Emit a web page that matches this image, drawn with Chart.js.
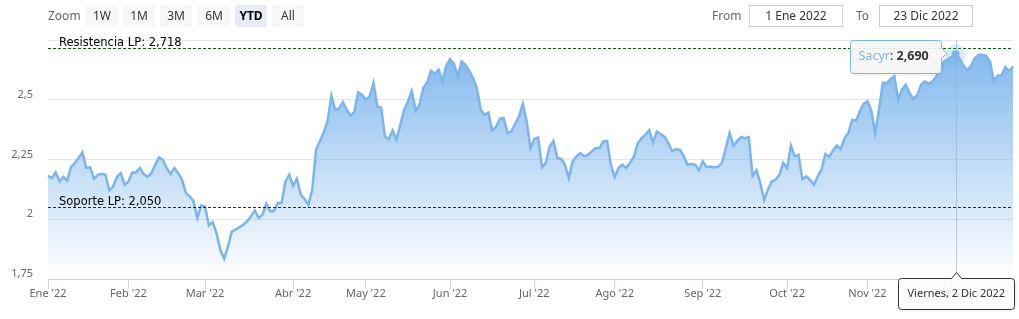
<!DOCTYPE html>
<html>
<head>
<meta charset="utf-8">
<script src="https://cdn.jsdelivr.net/npm/chart.js@4.4.0/dist/chart.umd.min.js"></script>
<style>
  html, body { margin: 0; padding: 0; background: #fff; }
  #wrap { position: relative; width: 1019px; height: 319px; font-family: "Noto Sans", sans-serif; }
  #chart { position: absolute; left: 0; top: 0; }
  .txt { position: absolute; top: 6px; font-size: 12px; line-height: 20px; color: #666; }
  .btn { position: absolute; top: 5px; width: 32px; height: 22px; line-height: 22px; background: #f7f7f7;
         border-radius: 2px; text-align: center; font-size: 12px; color: #333; }
  .btn.on { background: #e6ebf5; color: #000; font-weight: bold; }
  .inp { position: absolute; top: 5px; width: 92px; height: 20px; line-height: 20px; border: 1px solid #ccc;
         text-align: center; font-size: 12px; color: #333; }
</style>
</head>
<body>
<div id="wrap">
  <canvas id="chart" width="1019" height="319"></canvas>
</div>
<script>
// daily close, Sacyr 2022 (one array per month)
const ene = [2.182, 2.172, 2.196, 2.158, 2.177, 2.161, 2.218, 2.235, 2.256, 2.280, 2.214, 2.218, 2.170, 2.186, 2.190, 2.186, 2.120, 2.137, 2.177, 2.193, 2.144];
const feb = [2.158, 2.196, 2.196, 2.214, 2.189, 2.177, 2.193, 2.228, 2.259, 2.249, 2.214, 2.190, 2.214, 2.193, 2.165, 2.110, 2.096, 2.075, 2.005, 2.058];
const mar = [2.054, 1.974, 1.988, 1.942, 1.872, 1.835, 1.886, 1.949, 1.956, 1.967, 1.977, 1.991, 2.012, 2.037, 2.005, 2.019, 2.065, 2.033, 2.033, 2.068, 2.068, 2.158, 2.186];
const abr = [2.140, 2.170, 2.103, 2.085, 2.061, 2.123, 2.291, 2.326, 2.363, 2.410, 2.517, 2.458, 2.464, 2.490, 2.458, 2.433, 2.451, 2.531, 2.521];
const may = [2.500, 2.514, 2.570, 2.472, 2.468, 2.346, 2.336, 2.372, 2.333, 2.395, 2.458, 2.493, 2.536, 2.455, 2.479, 2.549, 2.572, 2.621, 2.609, 2.626, 2.579, 2.642];
const jun = [2.670, 2.651, 2.598, 2.660, 2.646, 2.621, 2.591, 2.549, 2.458, 2.437, 2.447, 2.372, 2.386, 2.421, 2.423, 2.361, 2.367, 2.400, 2.430, 2.483, 2.409, 2.298];
const jul = [2.336, 2.342, 2.218, 2.236, 2.303, 2.328, 2.256, 2.253, 2.228, 2.172, 2.242, 2.263, 2.277, 2.263, 2.270, 2.284, 2.298, 2.298, 2.326, 2.328, 2.226];
const ago = [2.177, 2.214, 2.228, 2.214, 2.236, 2.263, 2.318, 2.339, 2.353, 2.372, 2.321, 2.367, 2.356, 2.346, 2.318, 2.284, 2.294, 2.290, 2.265, 2.228, 2.231, 2.228, 2.205];
const sep = [2.242, 2.218, 2.221, 2.217, 2.220, 2.236, 2.298, 2.361, 2.308, 2.328, 2.344, 2.339, 2.344, 2.182, 2.205, 2.152, 2.080, 2.123, 2.158, 2.165, 2.186, 2.236];
const oct = [2.214, 2.308, 2.263, 2.270, 2.167, 2.179, 2.165, 2.144, 2.179, 2.209, 2.273, 2.261, 2.288, 2.308, 2.294, 2.339, 2.361, 2.416, 2.413, 2.451, 2.483];
const nov = [2.493, 2.455, 2.361, 2.458, 2.572, 2.570, 2.586, 2.598, 2.500, 2.542, 2.563, 2.528, 2.503, 2.521, 2.563, 2.577, 2.567, 2.577, 2.598, 2.633, 2.660, 2.670];
const dic = [2.681, 2.690, 2.674, 2.646, 2.623, 2.642, 2.674, 2.688, 2.688, 2.684, 2.660, 2.577, 2.601, 2.601, 2.637, 2.619, 2.639];

const months = [ene, feb, mar, abr, may, jun, jul, ago, sep, oct, nov, dic];
const monthLabels = ["Ene '22", "Feb '22", "Mar '22", "Abr '22", "May '22", "Jun '22", "Jul '22", "Ago '22", "Sep '22", "Oct '22", "Nov '22", "Dic '22"];
const yTicks = [1.75, 2, 2.25, 2.5, 2.75];

const levelNames = ['Resistencia LP', 'Soporte LP'];
const levelValues = [2.718, 2.050];

const seriesName = 'Sacyr';
const hoverDay = 1; // 2nd trading day of December
const hoverDate = 'Viernes, 2 Dic 2022';

const zoomButtons = ['1W', '1M', '3M', '6M', 'YTD', 'All'];
const activeButton = 'YTD';
const fromDate = '1 Ene 2022';
const toDate = '23 Dic 2022';

const prices = [].concat(...months);
const monthStarts = [];
months.reduce((n, m) => { monthStarts.push(n); return n + m.length; }, 0);
const hoverIndex = monthStarts[11] + hoverDay;

const fmt = v => String(v).replace('.', ',');
const fmt3 = v => v.toFixed(3).replace('.', ',');

// toolbar
const wrap = document.getElementById('wrap');
function addDiv(cls, text, left) {
  const d = document.createElement('div');
  d.className = cls;
  d.textContent = text;
  d.style.left = left + 'px';
  wrap.appendChild(d);
  return d;
}
addDiv('txt', 'Zoom', 48);
zoomButtons.forEach((b, i) => {
  const d = addDiv('btn', b, 86 + Math.round(i * 37.2));
  if (b === activeButton) d.classList.add('on');
});
addDiv('txt', 'From', 712);
addDiv('inp', fromDate, 749);
addDiv('txt', 'To', 856);
addDiv('inp', toDate, 879);

const blue = '#7cb5ec';

const overlay = {
  id: 'overlay',
  beforeDatasetsDraw(chart) {
    const { ctx, chartArea: a, scales: { x } } = chart;
    const px = Math.round(x.getPixelForValue(hoverIndex)) + 0.5;
    ctx.save();
    ctx.strokeStyle = '#cccccc';
    ctx.lineWidth = 1;
    ctx.beginPath();
    ctx.moveTo(px, a.top);
    ctx.lineTo(px, a.bottom);
    ctx.stroke();
    ctx.restore();
  },
  afterDatasetsDraw(chart) {
    const { ctx, chartArea: a, scales: { x, y } } = chart;
    const colors = ['#006400', '#8b0000'];
    ctx.save();
    levelValues.forEach((v, i) => {
      const py = Math.round(y.getPixelForValue(v)) + 0.5;
      ctx.strokeStyle = colors[i];
      ctx.lineWidth = 1;
      ctx.setLineDash([3, 2]);
      ctx.beginPath();
      ctx.moveTo(a.left, py);
      ctx.lineTo(a.right, py);
      ctx.stroke();
      ctx.setLineDash([]);
      ctx.fillStyle = '#000';
      ctx.font = '11.5px "DejaVu Sans"';
      ctx.fillText(levelNames[i] + ': ' + fmt3(v), a.left + 11, py - 3);
    });
    // hover marker
    const px = x.getPixelForValue(hoverIndex);
    const py = y.getPixelForValue(prices[hoverIndex]);
    ctx.fillStyle = 'rgba(124,181,236,0.25)';
    ctx.beginPath(); ctx.arc(px, py, 10, 0, Math.PI * 2); ctx.fill();
    ctx.fillStyle = blue;
    ctx.beginPath(); ctx.arc(px, py, 4, 0, Math.PI * 2); ctx.fill();
    ctx.restore();
  },
  afterDraw(chart) {
    const { ctx, chartArea: a, scales: { x, y } } = chart;
    const px = x.getPixelForValue(hoverIndex);
    const py = y.getPixelForValue(prices[hoverIndex]);
    ctx.save();

    // series tooltip
    const nameTxt = seriesName, sepTxt = ': ', valTxt = fmt3(prices[hoverIndex]);
    ctx.font = '12.5px "Noto Sans"';
    const w1 = ctx.measureText(nameTxt).width, w2 = ctx.measureText(sepTxt).width;
    ctx.font = 'bold 12.5px "Noto Sans"';
    const w3 = ctx.measureText(valTxt).width;
    const bw = Math.round(w1 + w2 + w3 + 21), bh = 33;
    const br = Math.round(px - 15) + 0.5, bl = br - bw, bt = a.top + 0.5;
    const cy = py - 1;
    ctx.shadowColor = 'rgba(0,0,0,0.12)';
    ctx.shadowOffsetX = 1; ctx.shadowOffsetY = 1; ctx.shadowBlur = 3;
    ctx.beginPath();
    ctx.moveTo(bl + 3, bt);
    ctx.lineTo(br - 3, bt);
    ctx.arcTo(br, bt, br, bt + 3, 3);
    ctx.lineTo(br, cy - 5);
    ctx.lineTo(px - 8.5, cy);
    ctx.lineTo(br, cy + 5);
    ctx.lineTo(br, bt + bh - 3);
    ctx.arcTo(br, bt + bh, br - 3, bt + bh, 3);
    ctx.lineTo(bl + 3, bt + bh);
    ctx.arcTo(bl, bt + bh, bl, bt + bh - 3, 3);
    ctx.lineTo(bl, bt + 3);
    ctx.arcTo(bl, bt, bl + 3, bt, 3);
    ctx.closePath();
    ctx.fillStyle = 'rgba(247,247,247,0.9)';
    ctx.fill();
    ctx.shadowColor = 'transparent';
    ctx.strokeStyle = blue; ctx.lineWidth = 1;
    ctx.stroke();
    let tx = bl + 8;
    const ty = bt + 19;
    ctx.font = '12.5px "Noto Sans"';
    ctx.fillStyle = blue; ctx.fillText(nameTxt, tx, ty); tx += w1;
    ctx.fillStyle = '#333'; ctx.fillText(sepTxt, tx, ty); tx += w2;
    ctx.font = 'bold 12.5px "Noto Sans"';
    ctx.fillText(valTxt, tx, ty);

    // crosshair date label
    ctx.font = '11px "Noto Sans"';
    const dw = Math.round(ctx.measureText(hoverDate).width + 18);
    const dl = Math.round(px - dw / 2) + 0.5, dt = a.bottom - 0.5, dh = 31;
    const cx = Math.round(px) + 0.5;
    ctx.shadowColor = 'rgba(0,0,0,0.12)';
    ctx.shadowOffsetX = 1; ctx.shadowOffsetY = 1; ctx.shadowBlur = 3;
    ctx.beginPath();
    ctx.moveTo(dl + 3, dt);
    ctx.lineTo(cx - 5, dt);
    ctx.lineTo(cx, dt - 6);
    ctx.lineTo(cx + 5, dt);
    ctx.lineTo(dl + dw - 3, dt);
    ctx.arcTo(dl + dw, dt, dl + dw, dt + 3, 3);
    ctx.lineTo(dl + dw, dt + dh - 3);
    ctx.arcTo(dl + dw, dt + dh, dl + dw - 3, dt + dh, 3);
    ctx.lineTo(dl + 3, dt + dh);
    ctx.arcTo(dl, dt + dh, dl, dt + dh - 3, 3);
    ctx.lineTo(dl, dt + 3);
    ctx.arcTo(dl, dt, dl + 3, dt, 3);
    ctx.closePath();
    ctx.fillStyle = 'rgba(255,255,255,0.85)';
    ctx.fill();
    ctx.shadowColor = 'transparent';
    ctx.strokeStyle = '#333'; ctx.lineWidth = 1;
    ctx.stroke();
    ctx.fillStyle = '#333';
    ctx.textBaseline = 'middle';
    ctx.fillText(hoverDate, dl + 9, dt + dh / 2);
    ctx.restore();
  }
};

const ctx = document.getElementById('chart').getContext('2d');

const sacyrChart = new Chart(ctx, {
  type: 'line',
  data: {
    labels: prices.map((_, i) => i),
    datasets: [{
      label: seriesName,
      data: prices,
      borderColor: blue,
      borderWidth: 2.5,
      pointRadius: 0,
      tension: 0,
      fill: 'start',
      backgroundColor: (c) => {
        const area = c.chart.chartArea;
        if (!area) return 'rgba(124,181,236,0.4)';
        const g = c.chart.ctx.createLinearGradient(0, area.top, 0, area.bottom);
        g.addColorStop(0, 'rgba(124,181,236,1)');
        g.addColorStop(1, 'rgba(124,181,236,0)');
        return g;
      }
    }]
  },
  options: {
    responsive: false,
    animation: false,
    devicePixelRatio: 1,
    layout: { padding: { top: 40, right: 6, left: 0, bottom: 0 } },
    plugins: { legend: { display: false }, tooltip: { enabled: false } },
    scales: {
      x: {
        afterBuildTicks: (axis) => { axis.ticks = monthStarts.map(v => ({ value: v })); },
        afterFit: (s) => { s.height = 40; },
        grid: { drawOnChartArea: false, drawTicks: true, tickLength: 10, color: '#ccd6eb' },
        border: { display: true, color: '#ccd6eb' },
        ticks: {
          autoSkip: false, maxRotation: 0, padding: -2, color: '#666',
          font: { family: 'Noto Sans', size: 11 },
          callback: (v, i) => monthLabels[i]
        }
      },
      y: {
        min: 1.75,
        max: 2.75,
        afterBuildTicks: (axis) => { axis.ticks = yTicks.map(v => ({ value: v })); },
        afterFit: (s) => { s.width = 48; },
        grid: { color: '#e6e6e6', drawTicks: false },
        border: { display: false },
        ticks: {
          padding: 15, labelOffset: -5, color: '#666',
          font: { family: 'Noto Sans', size: 11 },
          callback: (v) => v === 2.75 ? '' : fmt(v)
        }
      }
    }
  },
  plugins: [overlay]
});
</script>
</body>
</html>
